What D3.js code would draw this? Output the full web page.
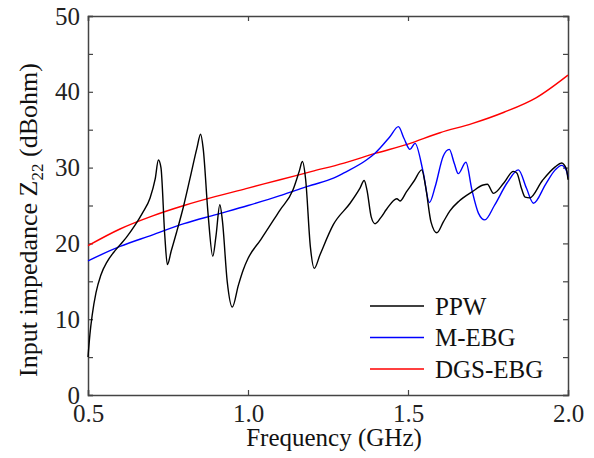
<!DOCTYPE html>
<html>
<head>
<meta charset="utf-8">
<script src="https://cdn.jsdelivr.net/npm/d3@7"></script>
<style>
  body { margin: 0; background: #fff; }
  svg { display: block; font-family: "Liberation Serif", "Times New Roman", serif; }
</style>
</head>
<body>
<svg></svg>
<script>
// ====== data ====== //
const ppwFreq = [0.500,0.506,0.513,0.525,0.540,0.560,0.580,0.600,0.620,0.647,0.670,0.694,0.710,0.720,0.728,0.740,0.748,0.760,0.777,0.798,0.820,0.840,0.852,0.860,0.875,0.890,0.900,0.912,0.920,0.935,0.951,0.970,0.985,1.000,1.040,1.100,1.140,1.160,1.170,1.180,1.195,1.207,1.225,1.267,1.319,1.350,1.363,1.372,1.385,1.397,1.415,1.433,1.465,1.475,1.495,1.520,1.543,1.555,1.572,1.590,1.610,1.631,1.660,1.700,1.735,1.748,1.767,1.800,1.829,1.840,1.855,1.866,1.880,1.920,1.960,1.980,1.995,2.000];
const ppwVal  = [5.0,8.0,10.5,13.5,15.8,17.6,18.8,19.8,20.8,22.4,24.0,26.0,28.5,31.0,30.0,21.0,17.2,19.0,21.5,24.8,28.8,32.5,34.4,32.5,24.0,18.3,21.0,25.1,23.0,15.0,11.6,14.5,16.5,18.0,20.5,24.4,27.0,29.5,30.8,28.5,19.5,16.7,18.5,22.5,25.3,27.3,28.3,27.0,23.5,22.6,23.4,24.5,25.9,25.6,26.8,28.3,29.7,27.5,22.8,21.4,22.8,24.3,25.6,26.8,27.7,27.8,26.6,28.0,29.5,29.3,27.2,26.1,26.0,28.3,30.1,30.6,29.8,28.4];

const mebgFreq = [0.5,0.6,0.7,0.8,0.9,1.0,1.1,1.1625,1.2,1.267,1.3,1.37,1.397,1.444,1.47,1.488,1.506,1.522,1.547,1.567,1.585,1.610,1.629,1.645,1.657,1.681,1.700,1.720,1.740,1.770,1.810,1.845,1.870,1.892,1.930,1.960,1.980,1.995,2.0];
const mebgVal  = [17.7,19.6,21.1,22.6,23.8,25.0,26.3,27.2,27.7,28.6,29.3,31.0,31.9,34.1,35.4,33.8,32.4,33.2,29.5,25.4,27.5,31.5,32.4,30.5,29.2,30.7,27.0,24.0,23.1,25.0,28.0,29.7,27.3,25.3,27.8,29.7,30.3,29.6,28.8];

const dgsFreq = [0.5,0.6,0.7,0.8,0.9,1.0,1.1,1.2,1.3,1.4,1.5,1.6,1.7,1.8,1.9,2.0];
const dgsVal  = [19.7,21.9,23.6,25.0,26.2,27.3,28.4,29.5,30.6,31.9,33.1,34.6,35.8,37.3,39.2,42.2];

const seriesNames = ["PPW", "M-EBG", "DGS-EBG"];
const seriesColors = ["#000000", "#0000ff", "#ff0000"];

const xTicks = [0.5, 1.0, 1.5, 2.0];
const yTicks = [0, 5, 10, 15, 20, 25, 30, 35, 40, 45, 50];
const yLabels = [0, 10, 20, 30, 40, 50];

// ====== layout ====== //
const width = 594, height = 458;
const margin = {top: 16, right: 26, bottom: 63, left: 88};
const innerW = width - margin.left - margin.right;
const innerH = height - margin.top - margin.bottom;

const svg = d3.select("svg").attr("width", width).attr("height", height);
const g = svg.append("g").attr("transform", `translate(${margin.left},${margin.top})`);

const x = d3.scaleLinear().domain([0.5, 2.0]).range([0, innerW]);
const y = d3.scaleLinear().domain([0, 50]).range([innerH, 0]);

const axisColor = "#444";
const tickLen = 5;
const fontSz = "25px";

// axes (ticks pointing inward, mirrored on top / right)
const fmtX = d3.format(".1f");
const bottomAxis = d3.axisBottom(x).tickValues(xTicks).tickSize(-tickLen).tickFormat(fmtX).tickPadding(9);
const topAxis = d3.axisTop(x).tickValues(xTicks).tickSize(-tickLen).tickFormat("");
const leftAxis = d3.axisLeft(y).tickValues(yTicks).tickSize(-tickLen)
    .tickFormat(d => yLabels.includes(d) ? d : "").tickPadding(8);
const rightAxis = d3.axisRight(y).tickValues(yTicks).tickSize(-tickLen).tickFormat("");

function styleAxis(sel) {
  sel.select(".domain").attr("stroke", axisColor).attr("stroke-width", 1.5);
  sel.selectAll(".tick line").attr("stroke", axisColor).attr("stroke-width", 1.2);
  sel.selectAll(".tick text").attr("fill", "#222").style("font-size", fontSz)
     .style("font-family", "'Liberation Serif', 'Times New Roman', serif");
}

g.append("g").attr("transform", `translate(0,${innerH})`).call(bottomAxis).call(styleAxis);
g.append("g").call(topAxis).call(styleAxis);
g.append("g").call(leftAxis).call(styleAxis);
g.append("g").attr("transform", `translate(${innerW},0)`).call(rightAxis).call(styleAxis);

// lines
const line = d3.line()
  .x(d => x(d[0]))
  .y(d => y(d[1]))
  .curve(d3.curveMonotoneX);

const allSeries = [
  d3.zip(ppwFreq, ppwVal),
  d3.zip(mebgFreq, mebgVal),
  d3.zip(dgsFreq, dgsVal)
];

// red underneath, black on top
[2, 1, 0].forEach(i => {
  g.append("path")
    .datum(allSeries[i])
    .attr("fill", "none")
    .attr("stroke", seriesColors[i])
    .attr("stroke-width", 1.4)
    .attr("d", line);
});

// legend
const legend = g.append("g").attr("transform", `translate(${370 - margin.left},${306 - margin.top})`);
seriesNames.forEach((name, i) => {
  const row = legend.append("g").attr("transform", `translate(0,${i * 31.5})`);
  row.append("line").attr("x1", 0).attr("x2", 54).attr("y1", 0).attr("y2", 0)
    .attr("stroke", seriesColors[i]).attr("stroke-width", 1.4);
  row.append("text").attr("x", 65).attr("y", 8.5).text(name)
    .style("font-size", fontSz).attr("fill", "#111");
});

// axis titles
svg.append("text")
  .attr("x", margin.left + innerW / 2 + 6)
  .attr("y", 446)
  .attr("text-anchor", "middle")
  .style("font-size", fontSz).attr("fill", "#111")
  .text("Frequency (GHz)");

const yt = svg.append("text")
  .attr("transform", `translate(37,220) rotate(-90)`)
  .attr("text-anchor", "middle")
  .style("font-size", "26px").attr("fill", "#111");
yt.append("tspan").text("Input impedance Z");
yt.append("tspan").attr("dy", 6).style("font-size", "17px").text("22");
yt.append("tspan").attr("dy", -6).text(" (dBohm)");
</script>
</body>
</html>
